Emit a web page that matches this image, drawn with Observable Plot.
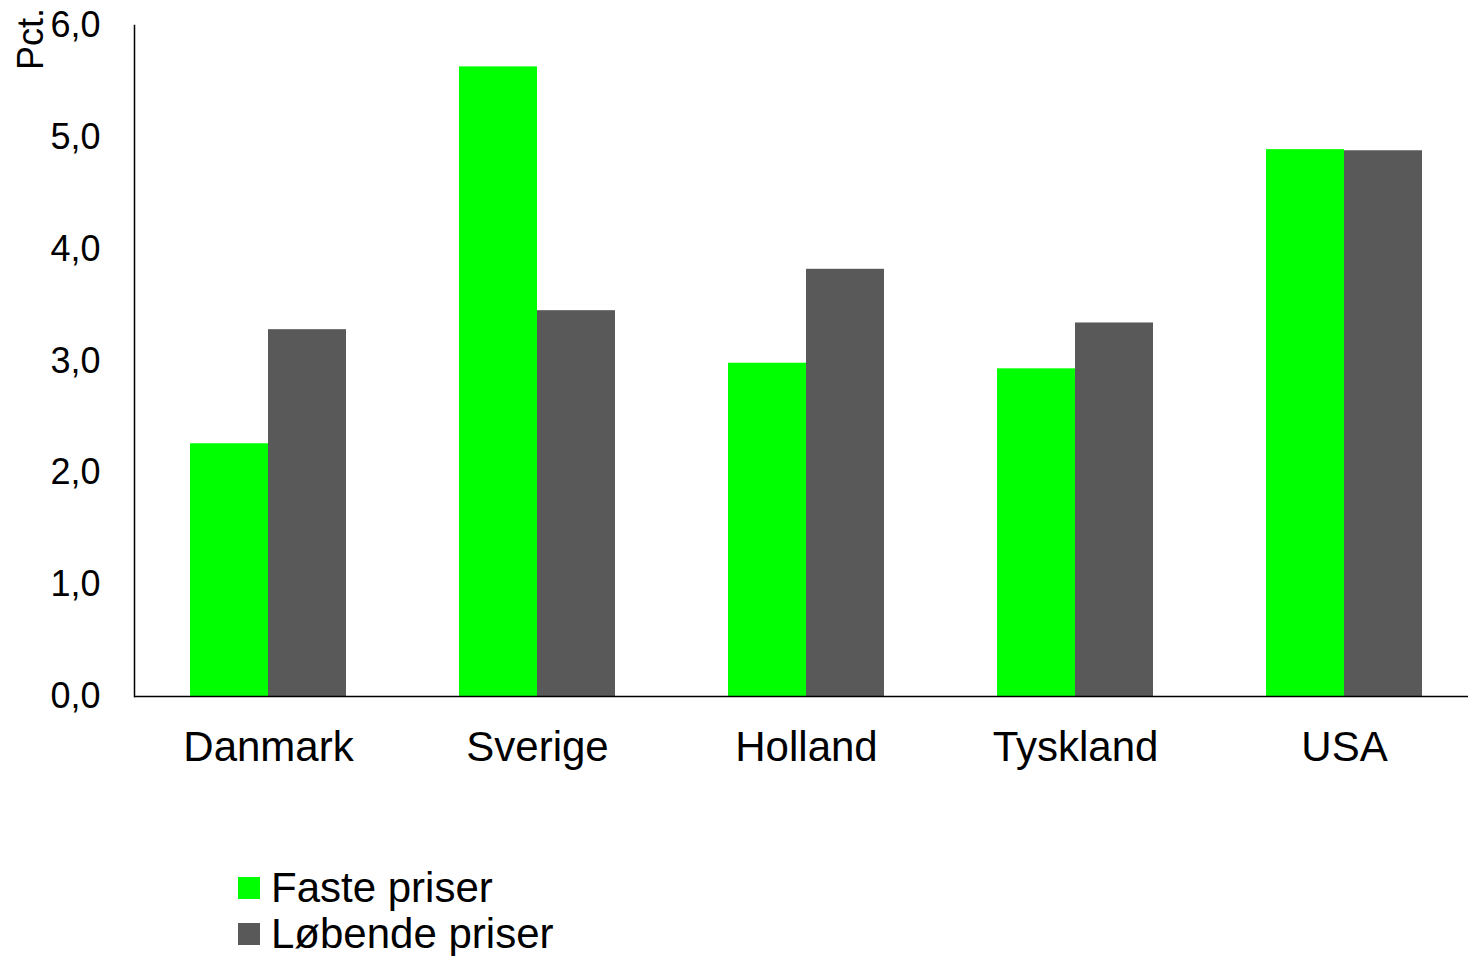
<!DOCTYPE html>
<html>
<head>
<meta charset="utf-8">
<script src="https://cdn.jsdelivr.net/npm/d3@7"></script>
<script src="https://cdn.jsdelivr.net/npm/@observablehq/plot@0.6"></script>
<style>
  html, body { margin: 0; padding: 0; background: #fff; }
  body { width: 1468px; height: 956px; overflow: hidden; font-family: "Liberation Sans", Arial, sans-serif; }
  #legend { margin-top: 65px; padding-left: 238px; }
  .item { display: flex; align-items: center; height: 46px; font-size: 42px; color: #000; }
  .sw { width: 22px; height: 22px; margin-right: 11px; }
</style>
</head>
<body>
<div id="chart"></div>
<div id="legend"></div>
<script>
const countries = ["Danmark", "Sverige", "Holland", "Tyskland", "USA"];
const series = ["Faste priser", "Løbende priser"];
const fastePriser = [2.26, 5.63, 2.98, 2.93, 4.89];
const lobendePriser = [3.28, 3.45, 3.82, 3.34, 4.88];
const yTicks = [0, 1, 2, 3, 4, 5, 6];
const colors = ["#00ff00", "#595959"];
const yLabel = "Pct.";

const fmt = d => d.toFixed(1).replace(".", ",");

const green = countries.map((c, i) => ({country: c, value: fastePriser[i]}));
const grey = countries.map((c, i) => ({country: c, value: lobendePriser[i]}));

const chart = Plot.plot({
  width: 1468,
  height: 800,
  marginLeft: 134,
  marginRight: 0,
  marginTop: 25,
  marginBottom: 104,
  style: {fontFamily: "'Liberation Sans', Arial, sans-serif", color: "#000", background: "#fff"},
  x: {
    domain: countries,
    range: [134, 1479],
    paddingInner: 0.42,
    paddingOuter: 0.21,
    label: null
  },
  y: {
    domain: [0, 6],
    label: null
  },
  marks: [
    Plot.barY(green, {x: "country", y: "value", fill: colors[0], insetRight: 78}),
    Plot.barY(grey, {x: "country", y: "value", fill: colors[1], insetLeft: 78}),
    Plot.axisX({tickSize: 0, tickPadding: 35, fontSize: 42, label: null}),
    Plot.axisY({ticks: yTicks, tickFormat: fmt, tickSize: 0, tickPadding: 34, fontSize: 36, label: null}),
    Plot.frame({anchor: "left", stroke: "#000", strokeWidth: 1.5}),
    Plot.ruleY([0], {stroke: "#000", strokeWidth: 1.5})
  ]
});
document.getElementById("chart").appendChild(chart);

// rotated unit label
const svg = d3.select(chart);
svg.append("text")
  .attr("transform", "translate(30,8) rotate(-90)")
  .attr("text-anchor", "end")
  .attr("dominant-baseline", "central")
  .attr("font-size", 36)
  .attr("font-family", "'Liberation Sans', Arial, sans-serif")
  .attr("fill", "#000")
  .text(yLabel);

const legend = document.getElementById("legend");
series.forEach((s, i) => {
  const row = document.createElement("div");
  row.className = "item";
  const sw = document.createElement("div");
  sw.className = "sw";
  sw.style.background = colors[i];
  const t = document.createElement("span");
  t.textContent = s;
  row.appendChild(sw);
  row.appendChild(t);
  legend.appendChild(row);
});
</script>
</body>
</html>
